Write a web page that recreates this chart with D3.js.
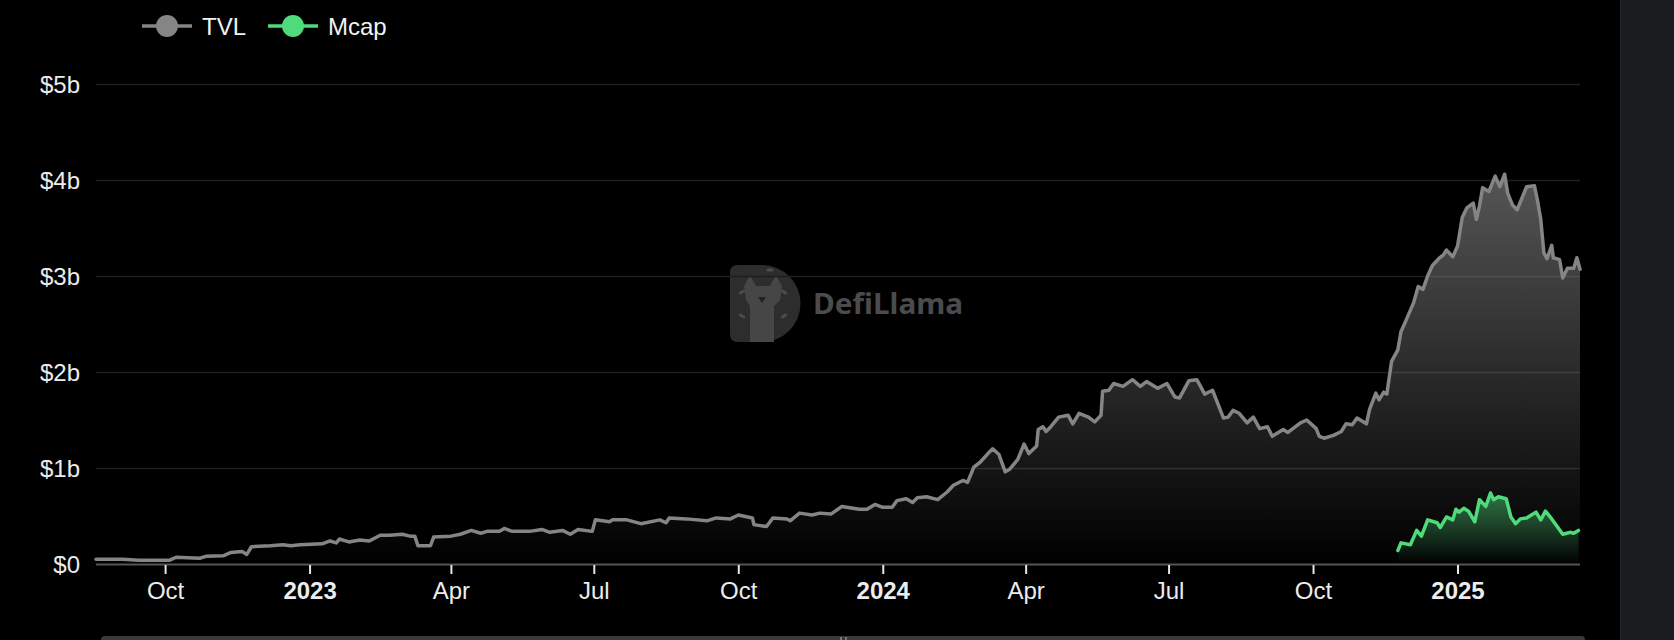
<!DOCTYPE html>
<html>
<head>
<meta charset="utf-8">
<script src="https://cdn.jsdelivr.net/npm/d3@7/dist/d3.min.js"></script>
<style>
  html, body { margin: 0; padding: 0; background: #000; }
  svg { display: block; }
</style>
</head>
<body>
<svg id="chart" width="1674" height="640"></svg>
<script>
// ---------------- DATA ----------------
const tvlDates = [
  "2022-08-18","2022-09-04","2022-09-14","2022-10-04","2022-10-08","2022-10-23","2022-10-27","2022-11-07",
  "2022-11-12","2022-11-19","2022-11-22","2022-11-25","2022-12-07","2022-12-15","2022-12-20","2022-12-26",
  "2023-01-09","2023-01-14","2023-01-18","2023-01-20","2023-01-26","2023-02-02","2023-02-08","2023-02-15",
  "2023-02-21","2023-03-01","2023-03-06","2023-03-09","2023-03-11","2023-03-19","2023-03-21","2023-04-01",
  "2023-04-07","2023-04-14","2023-04-20","2023-04-24","2023-05-02","2023-05-05","2023-05-10","2023-05-21",
  "2023-05-29","2023-06-03","2023-06-11","2023-06-16","2023-06-21","2023-06-30","2023-07-02","2023-07-11",
  "2023-07-13","2023-07-22","2023-07-31","2023-08-12","2023-08-16","2023-08-18","2023-08-29","2023-09-11",
  "2023-09-17","2023-09-26","2023-10-01","2023-10-10","2023-10-11","2023-10-19","2023-10-23","2023-11-01",
  "2023-11-03","2023-11-09","2023-11-17","2023-11-22","2023-11-29","2023-12-06","2023-12-17","2023-12-22",
  "2023-12-27","2024-01-01","2024-01-07","2024-01-10","2024-01-16","2024-01-20","2024-01-23","2024-01-29",
  "2024-02-05","2024-02-11","2024-02-15","2024-02-21","2024-02-24","2024-02-28","2024-03-03","2024-03-08",
  "2024-03-11","2024-03-15","2024-03-19","2024-03-22","2024-03-27","2024-03-31","2024-04-03","2024-04-08",
  "2024-04-09","2024-04-12","2024-04-14","2024-04-17","2024-04-22","2024-04-28","2024-05-01","2024-05-05",
  "2024-05-11","2024-05-15","2024-05-19","2024-05-20","2024-05-24","2024-05-27","2024-06-02","2024-06-08",
  "2024-06-13","2024-06-17","2024-06-24","2024-06-30","2024-07-05","2024-07-08","2024-07-14","2024-07-19",
  "2024-07-24","2024-07-29","2024-08-05","2024-08-08","2024-08-11","2024-08-15","2024-08-20","2024-08-24",
  "2024-08-28","2024-09-02","2024-09-05","2024-09-12","2024-09-15","2024-09-23","2024-09-27","2024-10-03",
  "2024-10-05","2024-10-08","2024-10-14","2024-10-19","2024-10-22","2024-10-26","2024-10-29","2024-11-04",
  "2024-11-06","2024-11-10","2024-11-12","2024-11-15","2024-11-17","2024-11-20","2024-11-24","2024-11-26",
  "2024-11-29","2024-12-04","2024-12-07","2024-12-10","2024-12-13","2024-12-16","2024-12-20","2024-12-23",
  "2024-12-25","2024-12-29","2025-01-01","2025-01-04","2025-01-07","2025-01-11","2025-01-13","2025-01-15",
  "2025-01-17","2025-01-21","2025-01-25","2025-01-28","2025-01-31","2025-02-02","2025-02-05","2025-02-08",
  "2025-02-14","2025-02-19","2025-02-21","2025-02-23","2025-02-25","2025-02-27","2025-03-02","2025-03-03",
  "2025-03-07","2025-03-09","2025-03-12","2025-03-16","2025-03-18","2025-03-20"
];
// TVL in billions USD
const tvlValues = [
  0.05,0.05,0.04,0.04,0.07,0.06,0.08,0.085,
  0.12,0.13,0.10,0.18,0.19,0.20,0.19,0.20,
  0.21,0.24,0.22,0.26,0.23,0.25,0.24,0.30,
  0.30,0.31,0.29,0.29,0.19,0.19,0.28,0.29,
  0.31,0.35,0.32,0.34,0.34,0.37,0.34,0.34,
  0.36,0.33,0.35,0.31,0.36,0.34,0.46,0.44,
  0.46,0.46,0.42,0.46,0.43,0.48,0.47,0.45,
  0.48,0.47,0.51,0.48,0.41,0.39,0.48,0.47,
  0.45,0.53,0.51,0.53,0.52,0.60,0.57,0.57,
  0.62,0.59,0.59,0.66,0.68,0.64,0.69,0.70,
  0.67,0.75,0.82,0.87,0.85,1.01,1.06,1.15,
  1.20,1.14,0.96,0.99,1.09,1.25,1.15,1.23,
  1.40,1.43,1.38,1.43,1.53,1.55,1.46,1.57,
  1.53,1.48,1.55,1.80,1.81,1.88,1.85,1.92,
  1.85,1.90,1.83,1.88,1.74,1.73,1.91,1.92,
  1.77,1.81,1.52,1.53,1.60,1.57,1.47,1.53,
  1.41,1.43,1.33,1.40,1.37,1.47,1.50,1.41,
  1.33,1.31,1.34,1.38,1.46,1.45,1.52,1.46,
  1.61,1.78,1.71,1.79,1.77,2.11,2.23,2.42,
  2.53,2.72,2.89,2.86,3.00,3.11,3.18,3.22,
  3.27,3.20,3.31,3.61,3.71,3.76,3.59,3.73,
  3.92,3.88,4.04,3.93,4.06,3.86,3.74,3.69,
  3.93,3.94,3.78,3.59,3.24,3.18,3.32,3.19,
  3.17,2.98,3.08,3.08,3.19,3.07
];
const mcapDates = [
  "2024-11-24","2024-11-26","2024-12-02","2024-12-06","2024-12-09","2024-12-13","2024-12-19","2024-12-21",
  "2024-12-25","2024-12-29","2024-12-31","2025-01-02","2025-01-05","2025-01-08","2025-01-12","2025-01-15",
  "2025-01-19","2025-01-22","2025-01-24","2025-01-27","2025-02-01","2025-02-04","2025-02-07","2025-02-10",
  "2025-02-14","2025-02-17","2025-02-20","2025-02-23","2025-02-26","2025-03-02","2025-03-05","2025-03-09",
  "2025-03-14","2025-03-16","2025-03-19"
];
// Mcap in billions USD
const mcapValues = [
  0.14,0.22,0.20,0.35,0.29,0.46,0.43,0.38,
  0.49,0.46,0.57,0.54,0.58,0.55,0.44,0.67,
  0.60,0.74,0.67,0.70,0.68,0.49,0.42,0.47,
  0.48,0.51,0.54,0.46,0.55,0.47,0.40,0.31,
  0.33,0.32,0.35
];
const seriesNames = ["TVL", "Mcap"];
const seriesColors = ["#858585", "#4fdb7b"];
const yTickValues = [0, 1, 2, 3, 4, 5];
const yTickLabels = ["$0", "$1b", "$2b", "$3b", "$4b", "$5b"];
const xTickDates = ["2022-10-01","2023-01-01","2023-04-01","2023-07-01","2023-10-01","2024-01-01","2024-04-01","2024-07-01","2024-10-01","2025-01-01"];
const xTickLabels = ["Oct","2023","Apr","Jul","Oct","2024","Apr","Jul","Oct","2025"];
const xDomain = ["2022-08-18", "2025-03-20"];

// ---------------- CHART ----------------
const parse = d3.utcParse("%Y-%m-%d");
const svg = d3.select("#chart");
const W = 1674, H = 640;
const plot = { left: 96, right: 1580, top: 84, bottom: 564 };

svg.append("rect").attr("width", W).attr("height", H).attr("fill", "#000");
// right side panel
svg.append("rect").attr("x", 1620).attr("y", 0).attr("width", 54).attr("height", H).attr("fill", "#1b1c20");
svg.append("line").attr("x1", 1620.5).attr("x2", 1620.5).attr("y1", 0).attr("y2", H).attr("stroke", "#24262b").attr("stroke-width", 1);

const x = d3.scaleUtc().domain(xDomain.map(parse)).range([plot.left, plot.right]);
const y = d3.scaleLinear().domain([0, 5]).range([plot.bottom, plot.top]);

const font = "'Liberation Sans', Arial, Helvetica, sans-serif";

// watermark (DefiLlama)
const wm = svg.append("g");
wm.append("path")
  .attr("d", "M738,265 L762,265 A38,38 0 0 1 762,342 L738,342 Q730,342 730,334 L730,273 Q730,265 738,265 Z")
  .attr("fill", "#2d2d2d");
wm.append("path")
  .attr("d", "M744,286 L750,275 L756,286 L770,286 L776,275 L782,286 L780,300 L774,306 L774,342 L750,342 L750,306 L746,300 Z")
  .attr("fill", "#464646");
wm.append("path").attr("d", "M758,297 L766,297 L762,303 Z").attr("fill", "#222");
[[742,292,-30],[742,316,30],[784,292,30],[784,316,-30],[770,270,0]].forEach(p => {
  wm.append("rect").attr("x", p[0]-3.5).attr("y", p[1]-1.5).attr("width", 7).attr("height", 3).attr("rx", 1.5)
    .attr("transform", `rotate(${p[2]},${p[0]},${p[1]})`).attr("fill", "#4c4c4c");
});
wm.append("text").attr("x", 813).attr("y", 314)
  .attr("font-family", "'Noto Sans', 'DejaVu Sans', sans-serif").attr("font-weight", 700)
  .attr("font-size", 29).attr("fill", "#4b4b4b").attr("textLength", 150).attr("lengthAdjust", "spacingAndGlyphs")
  .text("DefiLlama");

// gridlines
svg.append("g").selectAll("line").data(yTickValues.slice(1)).join("line")
  .attr("x1", plot.left).attr("x2", plot.right)
  .attr("y1", d => Math.round(y(d)) + 0.5).attr("y2", d => Math.round(y(d)) + 0.5)
  .attr("stroke", "#1f1f1f").attr("stroke-width", 1.5);

// y axis labels
const yAxis = d3.axisLeft(y).tickValues(yTickValues).tickSize(0).tickPadding(0)
  .tickFormat((d, i) => yTickLabels[i]);
const gy = svg.append("g").attr("transform", `translate(80,0)`).call(yAxis);
gy.select(".domain").remove();
gy.selectAll("text").attr("font-family", font).attr("font-size", 24).attr("fill", "#ececec")
  .attr("dy", "0.34em").attr("x", 0).attr("text-anchor", "end");

// gradients
const defs = svg.append("defs");
function grad(id, color, op, yTop) {
  const g = defs.append("linearGradient").attr("id", id).attr("gradientUnits", "userSpaceOnUse")
    .attr("x1", 0).attr("x2", 0).attr("y1", yTop).attr("y2", plot.bottom);
  g.append("stop").attr("offset", 0).attr("stop-color", color).attr("stop-opacity", op);
  g.append("stop").attr("offset", 1).attr("stop-color", color).attr("stop-opacity", 0);
}
grad("gTVL", "#8a8a8a", 0.62, y(d3.max(tvlValues)));
grad("gMcap", "#4fdb7b", 0.5, y(d3.max(mcapValues)));

const tvl = tvlDates.map((d, i) => ({ date: parse(d), v: tvlValues[i] }));
const mcap = mcapDates.map((d, i) => ({ date: parse(d), v: mcapValues[i] }));

const area = d3.area().x(d => x(d.date)).y0(y(0)).y1(d => y(d.v));
const line = d3.line().x(d => x(d.date)).y(d => y(d.v));

svg.append("path").datum(tvl).attr("d", area).attr("fill", "url(#gTVL)");
svg.append("path").datum(mcap).attr("d", area).attr("fill", "url(#gMcap)");
svg.append("path").datum(tvl).attr("d", line).attr("fill", "none")
  .attr("stroke", seriesColors[0]).attr("stroke-width", 3.5).attr("stroke-linejoin", "round").attr("stroke-linecap", "round");
svg.append("path").datum(mcap).attr("d", line).attr("fill", "none")
  .attr("stroke", seriesColors[1]).attr("stroke-width", 3.5).attr("stroke-linejoin", "round").attr("stroke-linecap", "round");

// x axis
const xAxis = d3.axisBottom(x).tickValues(xTickDates.map(parse)).tickSize(10).tickPadding(0)
  .tickFormat((d, i) => xTickLabels[i]);
const gx = svg.append("g").attr("transform", `translate(0,${plot.bottom})`).call(xAxis);
gx.select(".domain").attr("stroke", "#555").attr("stroke-width", 2)
  .attr("d", `M${plot.left},0.5H${plot.right}`);
gx.selectAll(".tick line").attr("stroke", "#e6e6e6").attr("stroke-width", 2).attr("y1", 1);
gx.selectAll(".tick text").attr("font-family", font).attr("font-size", 24).attr("fill", "#ececec")
  .attr("y", 35).attr("dy", 0)
  .attr("font-weight", (d, i) => /^\d{4}$/.test(xTickLabels[i]) ? 700 : 400);

// legend
const legend = svg.append("g");
const legX = [142, 268];
seriesNames.forEach((name, i) => {
  const g = legend.append("g").attr("transform", `translate(${legX[i]},26)`);
  g.append("line").attr("x1", 0).attr("x2", 50).attr("y1", 0).attr("y2", 0)
    .attr("stroke", seriesColors[i]).attr("stroke-width", 3.5);
  g.append("circle").attr("cx", 25).attr("cy", 0).attr("r", 11).attr("fill", seriesColors[i]);
  g.append("text").attr("x", 60).attr("y", 8.5).attr("font-family", font).attr("font-size", 24)
    .attr("fill", "#f2f2f2").text(name);
});

// bottom data-zoom bar (partially visible)
svg.append("rect").attr("x", 101).attr("y", 636).attr("width", 1484).attr("height", 10).attr("rx", 4)
  .attr("fill", "#3a3a3a");
svg.append("rect").attr("x", 840).attr("y", 637).attr("width", 2).attr("height", 3).attr("fill", "#777");
svg.append("rect").attr("x", 845).attr("y", 637).attr("width", 2).attr("height", 3).attr("fill", "#777");
</script>
</body>
</html>
